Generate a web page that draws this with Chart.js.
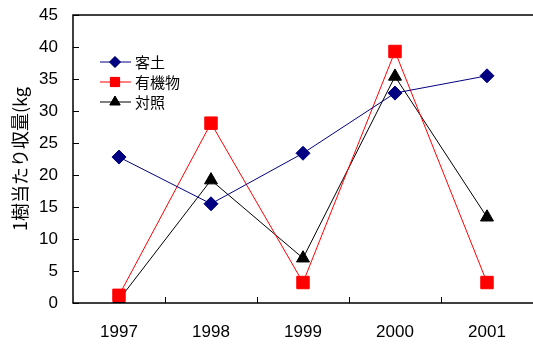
<!DOCTYPE html>
<html>
<head>
<meta charset="utf-8">
<script src="https://cdn.jsdelivr.net/npm/chart.js@4/dist/chart.umd.min.js"></script>
<style>
  html, body { margin: 0; padding: 0; background: #fff; }
  #wrap { width: 533px; height: 347px; }
</style>
</head>
<body>
<div id="wrap"><canvas id="yield_chart"></canvas></div>
<script>
// Years on the x axis
const years = ['1997', '1998', '1999', '2000', '2001'];

// Yield per tree (kg) for each treatment
const kyakudo = [22.8, 15.5, 23.4, 32.8, 35.5];
const yuukibutsu = [1.2, 28.1, 3.2, 39.3, 3.2];
const taishou = [0.5, 19.2, 7.0, 35.4, 13.4];

const y_ticks = [0, 5, 10, 15, 20, 25, 30, 35, 40, 45];

const NUM_FONT = '"Liberation Sans", Arial, sans-serif';
const JP_FONT = '"Noto Sans CJK JP", sans-serif';

// Frame, inward tick marks and the in-plot legend
const framePlugin = {
  id: 'frame',
  afterDraw(chart) {
    const ctx = chart.ctx;
    const a = chart.chartArea;
    const xs = chart.scales.x;
    const ys = chart.scales.y;
    ctx.save();
    ctx.strokeStyle = '#000';
    ctx.lineWidth = 1.5;
    ctx.beginPath();
    ctx.moveTo(a.right + 2, a.top);
    ctx.lineTo(a.left, a.top);
    ctx.lineTo(a.left, a.bottom);
    ctx.lineTo(a.right + 2, a.bottom);
    ctx.stroke();

    ctx.lineWidth = 1;
    ctx.beginPath();
    y_ticks.forEach(v => {
      const py = Math.round(ys.getPixelForValue(v)) + 0.5;
      ctx.moveTo(a.left, py);
      ctx.lineTo(a.left + 6, py);
    });
    for (let i = 1; i < years.length; i++) {
      const px = Math.round((xs.getPixelForValue(i - 1) + xs.getPixelForValue(i)) / 2) + 0.5;
      ctx.moveTo(px, a.bottom);
      ctx.lineTo(px, a.bottom - 6);
    }
    ctx.stroke();

    // legend
    const lx = a.left + 27, ly = a.top + 47, gap = 20;
    chart.data.datasets.forEach((ds, i) => {
      const y = ly + i * gap;
      ctx.strokeStyle = ds.borderColor;
      ctx.lineWidth = 1;
      ctx.beginPath();
      ctx.moveTo(lx, y);
      ctx.lineTo(lx + 31, y);
      ctx.stroke();
      Chart.helpers.drawPoint(ctx, {
        pointStyle: ds.pointStyle,
        radius: ds.legendRadius,
        rotation: 0,
        borderWidth: 1
      }, lx + 15, y);
      ctx.fillStyle = ds.pointBackgroundColor;
      ctx.fill();
      ctx.fillStyle = '#000';
      ctx.font = '15px ' + JP_FONT;
      ctx.textBaseline = 'middle';
      ctx.textAlign = 'left';
      ctx.fillText(ds.label, lx + 35, y);
    });
    ctx.restore();
  }
};

function series(label, data, color, style, radius, legendRadius) {
  return {
    label: label,
    data: data,
    borderColor: color,
    backgroundColor: color,
    pointBackgroundColor: color,
    pointBorderColor: color,
    pointStyle: style,
    pointRadius: radius,
    pointHoverRadius: radius,
    legendRadius: legendRadius,
    borderWidth: 1,
    tension: 0
  };
}

// no extra room kept for overflowing tick labels
function noPadding(scale) {
  scale.paddingLeft = 0;
  scale.paddingRight = 0;
  scale.paddingTop = 0;
  scale.paddingBottom = 0;
}

const config = {
  type: 'line',
  data: {
    labels: years,
    datasets: [
      series('客土', kyakudo, '#000080', 'rectRot', 7, 5.5),
      series('有機物', yuukibutsu, '#ff0000', 'rect', 8.8, 6.5),
      series('対照', taishou, '#000000', 'triangle', 7.5, 6)
    ]
  },
  options: {
    responsive: true,
    maintainAspectRatio: false,
    animation: false,
    layout: { autoPadding: false, padding: { top: 15, right: 0, left: 0, bottom: 0 } },
    plugins: {
      legend: { display: false },
      tooltip: { enabled: false }
    },
    scales: {
      x: {
        type: 'category',
        offset: true,
        grid: { display: false, drawTicks: false },
        border: { display: false },
        ticks: {
          color: '#000',
          padding: 19,
          font: { family: NUM_FONT, size: 17 }
        },
        afterFit(scale) { scale.height = 44; noPadding(scale); }
      },
      y: {
        min: 0,
        max: 45,
        grid: { display: false, drawTicks: false },
        border: { display: false },
        afterBuildTicks(scale) { scale.ticks = y_ticks.map(v => ({ value: v })); },
        ticks: {
          color: '#000',
          padding: 15,
          font: { family: NUM_FONT, size: 17 }
        },
        title: {
          display: true,
          text: '1樹当たり収量(kg',
          color: '#000',
          padding: { top: 9, bottom: 0 },
          font: { family: JP_FONT, size: 18 }
        },
        afterFit(scale) { scale.width = 73; noPadding(scale); }
      }
    }
  },
  plugins: [framePlugin]
};

const yield_chart = new Chart(document.getElementById('yield_chart'), config);
</script>
</body>
</html>
